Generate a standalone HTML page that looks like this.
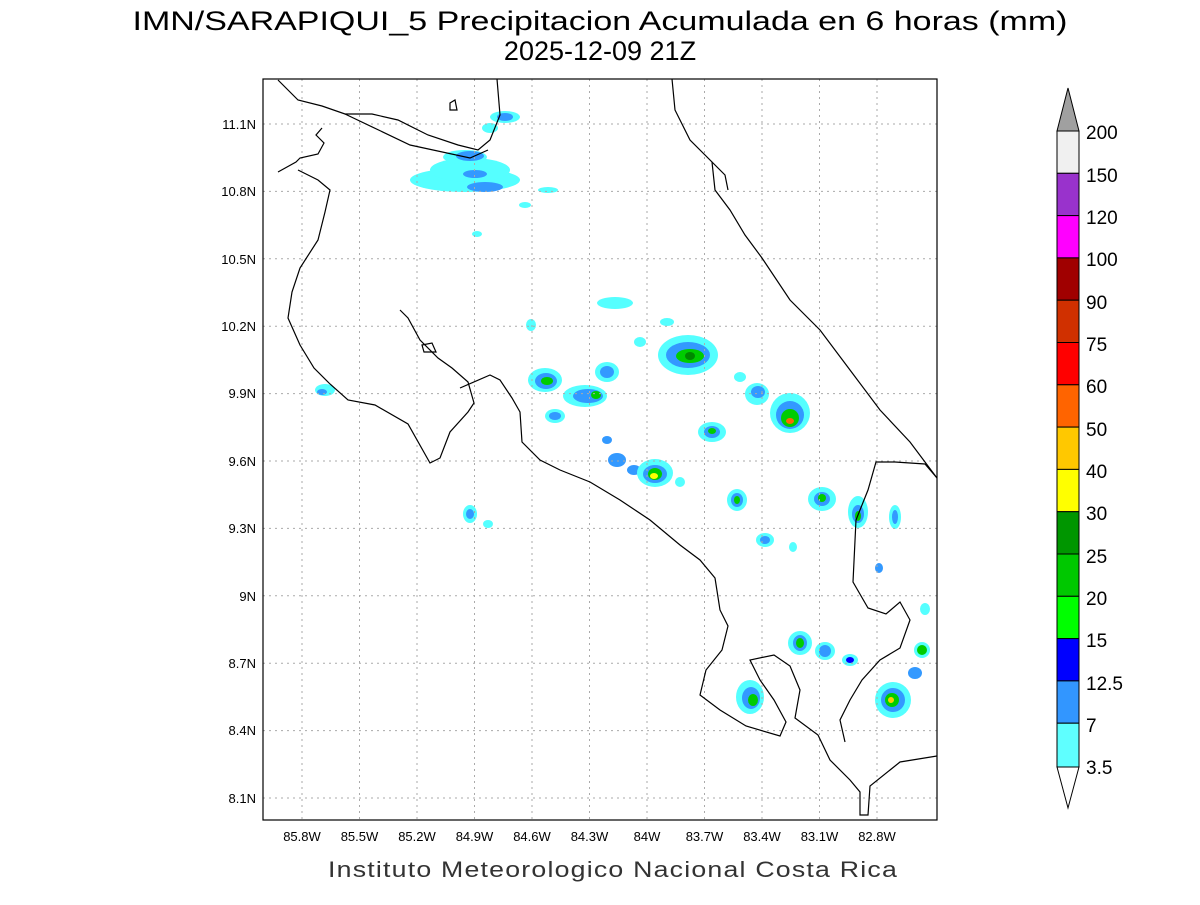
<!DOCTYPE html>
<html><head><meta charset="utf-8"><style>
body{margin:0;background:#fff;}
svg text{font-family:"Liberation Sans",sans-serif;}
</style></head><body>
<svg width="1200" height="900" viewBox="0 0 1200 900" xmlns="http://www.w3.org/2000/svg">
<rect width="1200" height="900" fill="#fff"/>
<text x="600" y="30" font-size="27" text-anchor="middle" fill="#000" textLength="935" lengthAdjust="spacingAndGlyphs">IMN/SARAPIQUI_5 Precipitacion Acumulada en 6 horas (mm)</text>
<text x="600" y="60" font-size="27" text-anchor="middle" fill="#000">2025-12-09 21Z</text>
<text x="613" y="877" font-size="22" text-anchor="middle" fill="#333" textLength="570" lengthAdjust="spacingAndGlyphs" letter-spacing="1">Instituto Meteorologico Nacional Costa Rica</text>
<defs><clipPath id="c"><rect x="263" y="79" width="674" height="741"/></clipPath></defs>
<g clip-path="url(#c)">
<!-- precip blobs -->
<g>
<ellipse cx="465" cy="180" rx="55" ry="12" fill="#5ff"/>
<ellipse cx="470" cy="170" rx="40" ry="12" fill="#5ff"/>
<ellipse cx="465" cy="157" rx="22" ry="7" fill="#5ff"/>
<ellipse cx="470" cy="156" rx="14" ry="5" fill="#39f"/>
<ellipse cx="485" cy="187" rx="18" ry="5" fill="#39f"/>
<ellipse cx="475" cy="174" rx="12" ry="4" fill="#39f"/>
<ellipse cx="505" cy="117" rx="15" ry="6" fill="#5ff"/>
<ellipse cx="505" cy="117" rx="8" ry="4" fill="#39f"/>
<ellipse cx="490" cy="128" rx="8" ry="5" fill="#5ff"/>
<ellipse cx="548" cy="190" rx="10" ry="3" fill="#5ff"/>
<ellipse cx="525" cy="205" rx="6" ry="3" fill="#5ff"/>
<ellipse cx="477" cy="234" rx="5" ry="3" fill="#5ff"/>
<ellipse cx="615" cy="303" rx="18" ry="6" fill="#5ff"/>
<ellipse cx="531" cy="325" rx="5" ry="6" fill="#5ff"/>
<ellipse cx="325" cy="390" rx="10" ry="6" fill="#5ff"/>
<ellipse cx="322" cy="392" rx="5" ry="3" fill="#39f"/>
<ellipse cx="545" cy="380" rx="17" ry="12" fill="#5ff"/>
<ellipse cx="546" cy="381" rx="11" ry="8" fill="#39f"/>
<ellipse cx="547" cy="381" rx="6" ry="4" fill="#0c0"/>
<ellipse cx="555" cy="416" rx="10" ry="7" fill="#5ff"/>
<ellipse cx="555" cy="416" rx="6" ry="4" fill="#39f"/>
<ellipse cx="607" cy="372" rx="12" ry="10" fill="#5ff"/>
<ellipse cx="607" cy="372" rx="7" ry="6" fill="#39f"/>
<ellipse cx="585" cy="396" rx="22" ry="11" fill="#5ff"/>
<ellipse cx="588" cy="396" rx="15" ry="7" fill="#39f"/>
<ellipse cx="596" cy="395" rx="5" ry="4" fill="#0c0"/>
<ellipse cx="688" cy="355" rx="30" ry="20" fill="#5ff"/>
<ellipse cx="688" cy="355" rx="22" ry="13" fill="#39f"/>
<ellipse cx="690" cy="356" rx="14" ry="7" fill="#0c0"/>
<ellipse cx="690" cy="356" rx="5" ry="4" fill="#080"/>
<ellipse cx="640" cy="342" rx="6" ry="5" fill="#5ff"/>
<ellipse cx="667" cy="322" rx="7" ry="4" fill="#5ff"/>
<ellipse cx="740" cy="377" rx="6" ry="5" fill="#5ff"/>
<ellipse cx="757" cy="394" rx="12" ry="11" fill="#5ff"/>
<ellipse cx="758" cy="392" rx="7" ry="6" fill="#39f"/>
<ellipse cx="790" cy="413" rx="20" ry="20" fill="#5ff"/>
<ellipse cx="790" cy="415" rx="14" ry="14" fill="#39f"/>
<ellipse cx="790" cy="418" rx="9" ry="9" fill="#0c0"/>
<ellipse cx="790" cy="421" rx="4" ry="3" fill="#f60"/>
<ellipse cx="712" cy="432" rx="14" ry="10" fill="#5ff"/>
<ellipse cx="712" cy="432" rx="8" ry="6" fill="#39f"/>
<ellipse cx="712" cy="431" rx="4" ry="3" fill="#0c0"/>
<ellipse cx="607" cy="440" rx="5" ry="4" fill="#39f"/>
<ellipse cx="617" cy="460" rx="9" ry="7" fill="#39f"/>
<ellipse cx="634" cy="470" rx="7" ry="5" fill="#39f"/>
<ellipse cx="655" cy="473" rx="18" ry="14" fill="#5ff"/>
<ellipse cx="655" cy="474" rx="12" ry="9" fill="#39f"/>
<ellipse cx="655" cy="474" rx="7" ry="6" fill="#0c0"/>
<ellipse cx="654" cy="476" rx="4" ry="3" fill="#ff0"/>
<ellipse cx="680" cy="482" rx="5" ry="5" fill="#5ff"/>
<ellipse cx="737" cy="500" rx="10" ry="11" fill="#5ff"/>
<ellipse cx="737" cy="500" rx="6" ry="7" fill="#39f"/>
<ellipse cx="737" cy="500" rx="3" ry="4" fill="#0c0"/>
<ellipse cx="765" cy="540" rx="9" ry="7" fill="#5ff"/>
<ellipse cx="765" cy="540" rx="5" ry="4" fill="#39f"/>
<ellipse cx="822" cy="499" rx="14" ry="12" fill="#5ff"/>
<ellipse cx="822" cy="499" rx="8" ry="7" fill="#39f"/>
<ellipse cx="822" cy="498" rx="4" ry="4" fill="#0c0"/>
<ellipse cx="858" cy="512" rx="10" ry="16" fill="#5ff"/>
<ellipse cx="858" cy="514" rx="6" ry="9" fill="#39f"/>
<ellipse cx="858" cy="516" rx="3" ry="5" fill="#0c0"/>
<ellipse cx="895" cy="517" rx="6" ry="12" fill="#5ff"/>
<ellipse cx="895" cy="517" rx="3" ry="7" fill="#39f"/>
<ellipse cx="470" cy="514" rx="7" ry="9" fill="#5ff"/>
<ellipse cx="470" cy="514" rx="4" ry="5" fill="#39f"/>
<ellipse cx="488" cy="524" rx="5" ry="4" fill="#5ff"/>
<ellipse cx="800" cy="643" rx="12" ry="12" fill="#5ff"/>
<ellipse cx="800" cy="643" rx="7" ry="8" fill="#39f"/>
<ellipse cx="800" cy="643" rx="4" ry="5" fill="#0c0"/>
<ellipse cx="825" cy="651" rx="10" ry="9" fill="#5ff"/>
<ellipse cx="825" cy="651" rx="6" ry="6" fill="#39f"/>
<ellipse cx="850" cy="660" rx="8" ry="6" fill="#5ff"/>
<ellipse cx="850" cy="660" rx="4" ry="3" fill="#00f"/>
<ellipse cx="750" cy="697" rx="14" ry="17" fill="#5ff"/>
<ellipse cx="751" cy="698" rx="9" ry="11" fill="#39f"/>
<ellipse cx="753" cy="700" rx="5" ry="6" fill="#0c0"/>
<ellipse cx="893" cy="700" rx="18" ry="18" fill="#5ff"/>
<ellipse cx="893" cy="700" rx="12" ry="12" fill="#39f"/>
<ellipse cx="892" cy="700" rx="7" ry="7" fill="#0c0"/>
<ellipse cx="891" cy="700" rx="3" ry="3" fill="#fc0"/>
<ellipse cx="922" cy="650" rx="8" ry="8" fill="#5ff"/>
<ellipse cx="922" cy="650" rx="5" ry="5" fill="#0c0"/>
<ellipse cx="915" cy="673" rx="7" ry="6" fill="#39f"/>
<ellipse cx="925" cy="609" rx="5" ry="6" fill="#5ff"/>
<ellipse cx="879" cy="568" rx="4" ry="5" fill="#39f"/>
<ellipse cx="793" cy="547" rx="4" ry="5" fill="#5ff"/>
</g>
<!-- grid -->
<g stroke="#aaa" stroke-width="1" stroke-dasharray="2,4">
<path d="M302 79V820M359.5 79V820M417 79V820M474.5 79V820M532 79V820M589.5 79V820M647 79V820M704.5 79V820M762 79V820M819.5 79V820M877 79V820"/>
<path d="M263 124H937M263 191.4H937M263 258.8H937M263 326.2H937M263 393.6H937M263 461H937M263 528.4H937M263 595.8H937M263 663.2H937M263 730.6H937M263 798H937"/>
</g>
<!-- coastlines -->
<g fill="none" stroke="#000" stroke-width="1.2">
<path d="M278 80L298 100L322 106L345 114L372 114L398 120L428 135L458 145L478 150L490 140L500 115L497 79"/>
<path d="M345 114L410 145L470 158L488 150"/>
<path d="M278 172L296 162L300 158L318 154L324 143L316 135L322 128"/>
<path d="M298 170L318 180L330 190L325 212L318 240L300 268L292 292L288 318L300 345L314 368L330 384L348 400L375 405L408 424L430 463L440 458L450 432L468 412L474 403L468 382L452 368L438 358L420 340L408 318L400 310"/>
<path d="M460 388L490 375L500 380L512 398L520 412L522 442L540 460L560 470L590 482L620 500L650 520L680 545L700 560L715 578L720 610L728 626L722 650L706 670L700 695L720 710L746 726L780 736L786 722L774 700L760 680L750 660L774 655L790 666L800 690L795 718L818 735L830 760L850 780L860 792L860 815L868 815L870 786L900 762L937 756"/>
<path d="M672 79L675 110L690 140L712 162L715 190L730 210L745 235L762 258L790 300L820 330L850 370L880 410L910 442L937 478"/>
<path d="M712 162L725 175L728 190"/>
<path d="M937 478L925 464L895 462L876 462L868 490L856 520L853 582L868 608L886 614L900 602L910 620L900 648L880 660L862 680L850 700L840 720L845 742"/>
<path d="M422 345L432 343L436 352L424 352Z"/>
<path d="M450 103L455 100L457 110L450 110Z"/>
</g>
</g>
<rect x="263" y="79" width="674" height="741" fill="none" stroke="#000" stroke-width="1.2"/>
<!-- ticks -->
<g font-size="13" fill="#000">
<g text-anchor="middle">
<text x="302" y="841">85.8W</text><text x="359.5" y="841">85.5W</text><text x="417" y="841">85.2W</text><text x="474.5" y="841">84.9W</text><text x="532" y="841">84.6W</text><text x="589.5" y="841">84.3W</text><text x="647" y="841">84W</text><text x="704.5" y="841">83.7W</text><text x="762" y="841">83.4W</text><text x="819.5" y="841">83.1W</text><text x="877" y="841">82.8W</text>
</g>
<g text-anchor="end">
<text x="256" y="129">11.1N</text><text x="256" y="196">10.8N</text><text x="256" y="264">10.5N</text><text x="256" y="331">10.2N</text><text x="256" y="398">9.9N</text><text x="256" y="466">9.6N</text><text x="256" y="533">9.3N</text><text x="256" y="601">9N</text><text x="256" y="668">8.7N</text><text x="256" y="735">8.4N</text><text x="256" y="803">8.1N</text>
</g>
</g>
<!-- colorbar -->
<g stroke="#000" stroke-width="1">
<path d="M1057 131L1068 88L1079 131Z" fill="#a0a0a0"/>
<rect x="1057" y="131" width="22" height="42.3" fill="#f0f0f0"/>
<rect x="1057" y="173.3" width="22" height="42.3" fill="#9932cc"/>
<rect x="1057" y="215.6" width="22" height="42.3" fill="#ff00ff"/>
<rect x="1057" y="257.9" width="22" height="42.3" fill="#a00000"/>
<rect x="1057" y="300.2" width="22" height="42.3" fill="#d03000"/>
<rect x="1057" y="342.5" width="22" height="42.3" fill="#ff0000"/>
<rect x="1057" y="384.8" width="22" height="42.3" fill="#ff6400"/>
<rect x="1057" y="427.1" width="22" height="42.3" fill="#ffc800"/>
<rect x="1057" y="469.4" width="22" height="42.3" fill="#ffff00"/>
<rect x="1057" y="511.7" width="22" height="42.3" fill="#009600"/>
<rect x="1057" y="554" width="22" height="42.3" fill="#00c800"/>
<rect x="1057" y="596.3" width="22" height="42.3" fill="#00ff00"/>
<rect x="1057" y="638.6" width="22" height="42.3" fill="#0000ff"/>
<rect x="1057" y="680.9" width="22" height="42.3" fill="#3296ff"/>
<rect x="1057" y="723.2" width="22" height="43.8" fill="#5fffff"/>
<path d="M1057 767L1068 808L1079 767Z" fill="#fff"/>
</g>
<g font-size="19" fill="#000">
<text x="1086" y="139">200</text><text x="1086" y="182">150</text><text x="1086" y="224">120</text><text x="1086" y="266">100</text><text x="1086" y="309">90</text><text x="1086" y="351">75</text><text x="1086" y="393">60</text><text x="1086" y="436">50</text><text x="1086" y="478">40</text><text x="1086" y="520">30</text><text x="1086" y="563">25</text><text x="1086" y="605">20</text><text x="1086" y="647">15</text><text x="1086" y="690">12.5</text><text x="1086" y="732">7</text><text x="1086" y="774">3.5</text>
</g>
</svg>
</body></html>
